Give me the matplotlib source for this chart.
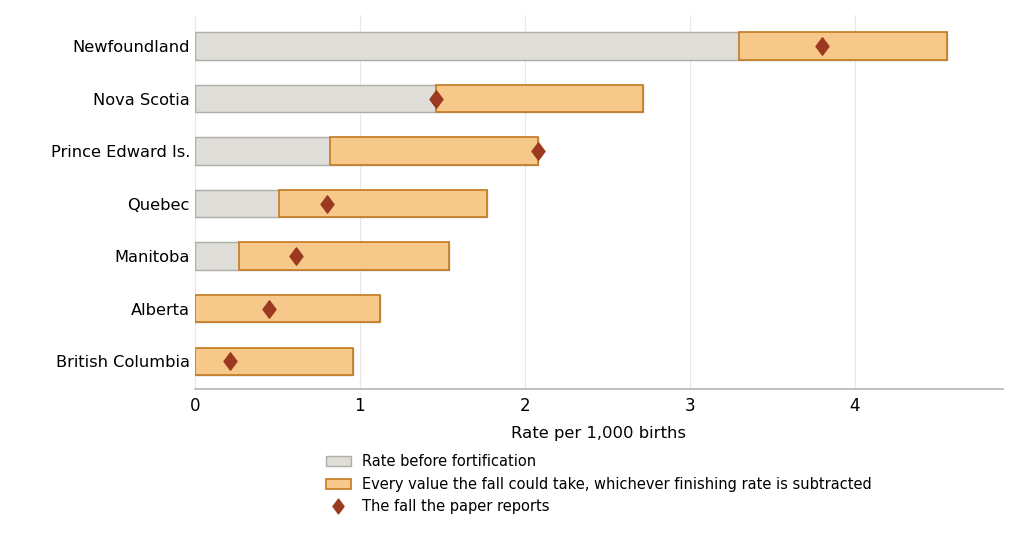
import matplotlib

matplotlib.use("Agg")

import matplotlib.pyplot as plt
from matplotlib.path import Path

provinces = [
    "Newfoundland",
    "Nova Scotia",
    "Prince Edward Is.",
    "Quebec",
    "Manitoba",
    "Alberta",
    "British Columbia",
]
rate_before = [4.56, 2.72, 2.08, 1.77, 1.54, 1.12, 0.96]
fall_low = [3.30, 1.46, 0.82, 0.51, 0.27, 0.00, 0.00]
fall_high = [4.56, 2.72, 2.08, 1.77, 1.54, 1.12, 0.96]
fall_reported = [3.80, 1.46, 2.08, 0.80, 0.61, 0.45, 0.21]

GREY_FILL = "#deddd8"
GREY_EDGE = "#aeada8"
ORANGE_FILL = "#f6c98b"
ORANGE_EDGE = "#c47a22"
DIAMOND = "#9b3a1f"

# a diamond a little wider than matplotlib's "d"
DIAMOND_MARKER = Path([(0, 1), (0.75, 0), (0, -1), (-0.75, 0), (0, 1)],
                      [Path.MOVETO, Path.LINETO, Path.LINETO, Path.LINETO, Path.CLOSEPOLY])


def main() -> None:
    fig = plt.figure(figsize=(10.24, 5.57), dpi=100)
    ax = fig.add_axes([0.1904, 0.3016, 0.789, 0.6714])

    y = list(range(len(provinces)))
    widths = [h - l for l, h in zip(fall_low, fall_high)]

    grey = ax.barh(y, rate_before, height=0.52, color=GREY_FILL, edgecolor=GREY_EDGE,
                   linewidth=1.0, zorder=2)
    orange = ax.barh(y, widths, left=fall_low, height=0.52, color=ORANGE_FILL,
                     edgecolor=ORANGE_EDGE, linewidth=1.2, zorder=3)
    (diamonds,) = ax.plot(fall_reported, y, linestyle="none", marker=DIAMOND_MARKER,
                          markersize=12.5, color=DIAMOND, zorder=4)

    ax.set_yticks(y)
    ax.set_yticklabels(provinces, fontsize=11.7)
    ax.set_ylim(6.53, -0.59)
    ax.set_xlim(0, 4.9)
    ax.set_xticks([0, 1, 2, 3, 4])
    ax.tick_params(axis="x", labelsize=12, length=0, pad=6)
    ax.tick_params(axis="y", length=0, pad=3.6)
    ax.set_xlabel("Rate per 1,000 births", fontsize=11.8, labelpad=8)

    ax.grid(axis="x", color="#e8e8e8", linewidth=0.9, zorder=0)
    ax.set_axisbelow(True)
    for side in ("top", "right", "left"):
        ax.spines[side].set_visible(False)
    ax.spines["bottom"].set_color("#bbbbbb")
    ax.spines["bottom"].set_linewidth(1.3)

    ax.legend(
        [grey, orange, diamonds],
        [
            "Rate before fortification",
            "Every value the fall could take, whichever finishing rate is subtracted",
            "The fall the paper reports",
        ],
        loc="upper center", bbox_to_anchor=(0.5, -0.14), frameon=False,
        fontsize=10.5, markerscale=0.85, handlelength=1.7,
        handletextpad=0.8, labelspacing=0.5,
    )

    fig.savefig("out.png", dpi=100)
    plt.close(fig)


if __name__ == "__main__":
    main()
